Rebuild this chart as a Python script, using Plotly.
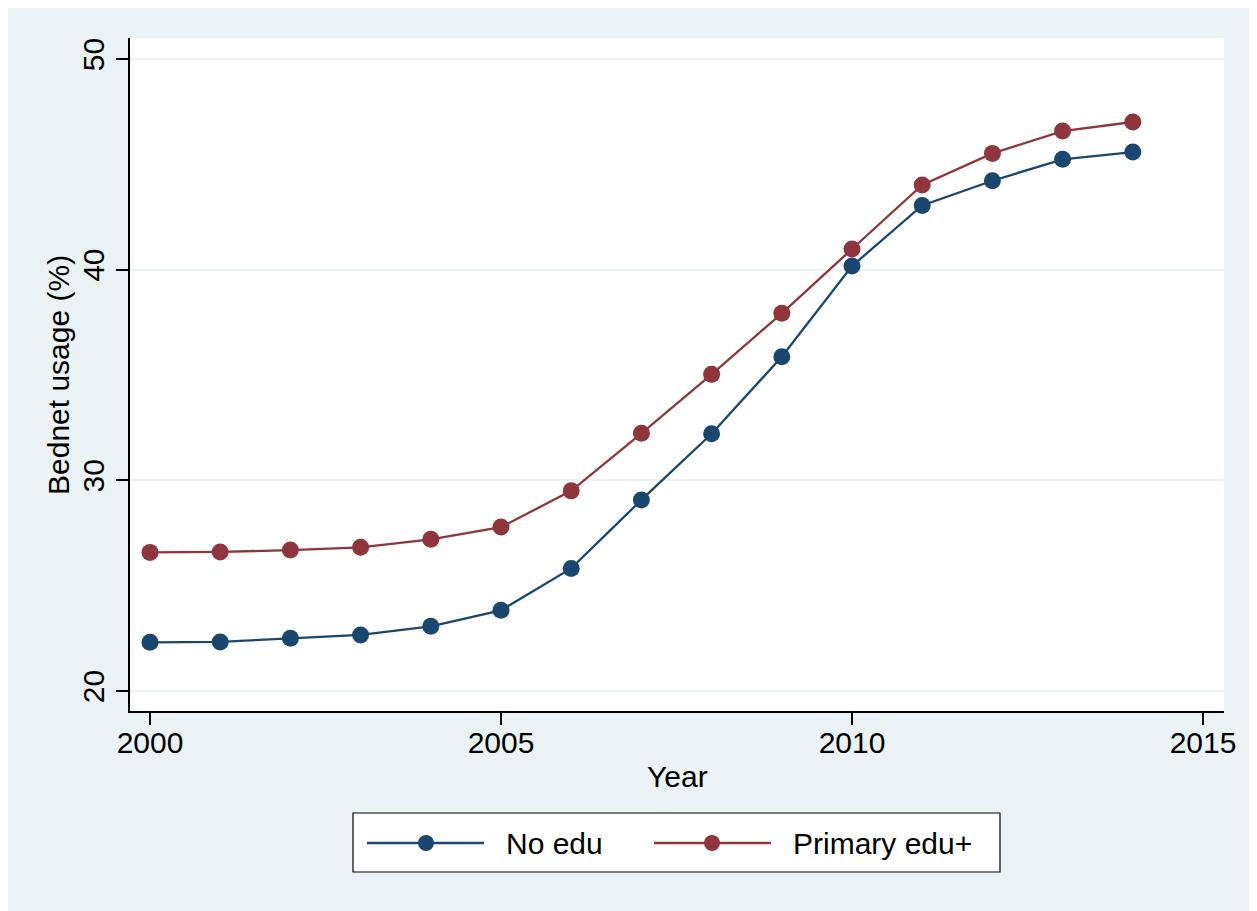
import plotly.graph_objects as go

years = list(range(2000, 2015))
no_edu = [22.31, 22.33, 22.50, 22.66, 23.07, 23.83, 25.82, 29.07, 32.21, 35.87,
          40.17, 43.05, 44.22, 45.24, 45.58]
primary_edu = [26.58, 26.60, 26.69, 26.82, 27.20, 27.78, 29.50, 32.23, 35.03, 37.93,
               40.98, 44.02, 45.52, 46.58, 47.01]
series_names = ["No edu", "Primary edu+"]
series_colors = ["#1A476F", "#90353B"]
x_ticks = [2000, 2005, 2010, 2015]
y_ticks = [20, 30, 40, 50]
x_title = "Year"
y_title = "Bednet usage (%)"

BG = "#EAF2F3"
FONT = "Liberation Sans, Arial, Helvetica, sans-serif"
OFF = 8  # page body margin
W, H = 1257, 911  # slightly larger than the visible area so the background reaches the edges
# plot area in screen pixels: x 130..1224, y 38..711
SL, SR, ST, SB = 130, 1224, 38, 711
L, T = SL - OFF, ST - OFF
R, B = W - (SR - OFF), H - (SB - OFF)
PW, PH = SR - SL, SB - ST


def px(xs):
    return (xs - SL) / PW


def py(ys):
    return (SB - ys) / PH


fig = go.Figure()
for vals, name, col in zip([no_edu, primary_edu], series_names, series_colors):
    fig.add_trace(go.Scatter(
        x=years, y=vals, name=name, mode="lines+markers",
        line=dict(color=col, width=2.3),
        marker=dict(color=col, size=17),
        showlegend=False,
    ))

shapes = [
    dict(type="rect", xref="paper", yref="paper", layer="above",
         x0=px(353), x1=px(1000), y0=py(813), y1=py(872),
         fillcolor="white", line=dict(color="black", width=1.2)),
]
annotations = [
    dict(text=x_title, xref="paper", yref="paper", x=0.5, y=py(776),
         xanchor="center", yanchor="middle", showarrow=False,
         font=dict(size=30, color="black", family=FONT)),
    dict(text=y_title, xref="paper", yref="paper", x=px(58), y=py(375),
         xanchor="center", yanchor="middle", showarrow=False, textangle=-90,
         font=dict(size=30, color="black", family=FONT)),
]
leg_items = [(367, 484, 426, 504), (654, 771, 712, 791)]
for (x0, x1, xm, xt), name, col in zip(leg_items, series_names, series_colors):
    shapes.append(dict(type="line", xref="paper", yref="paper", layer="above",
                       x0=px(x0), x1=px(x1), y0=py(843), y1=py(843),
                       line=dict(color=col, width=2.3)))
    shapes.append(dict(type="circle", xref="paper", yref="paper", layer="above",
                       xsizemode="pixel", ysizemode="pixel",
                       xanchor=px(xm), yanchor=py(843),
                       x0=-8, x1=8, y0=-8, y1=8,
                       fillcolor=col, line=dict(color=col, width=0)))
    annotations.append(dict(text=name, xref="paper", yref="paper",
                            x=px(xt), y=py(843), xanchor="left", yanchor="middle",
                            showarrow=False,
                            font=dict(size=30, color="black", family=FONT)))

# axis ranges from pixel calibration
x_per_px = 15 / (1203 - 150)
y_per_px = 30 / (691 - 59)
x_range = [2000 - (150 - SL) * x_per_px, 2015 + (SR - 1203) * x_per_px]
y_range = [20 - (SB - 691) * y_per_px, 50 + (59 - ST) * y_per_px]

fig.update_layout(
    width=W, height=H,
    margin=dict(l=L, r=R, t=T, b=B, autoexpand=False),
    paper_bgcolor=BG, plot_bgcolor="white",
    font=dict(family=FONT, size=30, color="black"),
    shapes=shapes, annotations=annotations,
    showlegend=False,
    xaxis=dict(range=x_range, tickmode="array", tickvals=x_ticks,
               ticktext=[str(v) for v in x_ticks],
               showgrid=False, zeroline=False, showline=True,
               linecolor="black", linewidth=1.5,
               ticks="outside", ticklen=12, tickwidth=1.5, tickcolor="black",
               ticklabelstandoff=-8,
               tickfont=dict(size=30, color="black", family=FONT)),
    yaxis=dict(range=y_range, tickmode="array", tickvals=y_ticks,
               ticktext=[str(v) for v in y_ticks],
               showgrid=True, gridcolor=BG, gridwidth=2, zeroline=False,
               showline=True, linecolor="black", linewidth=1.5,
               ticks="outside", ticklen=12, tickwidth=1.5, tickcolor="black",
               tickangle=-90,
               tickfont=dict(size=30, color="black", family=FONT)),
)

fig.write_html("out.html")
